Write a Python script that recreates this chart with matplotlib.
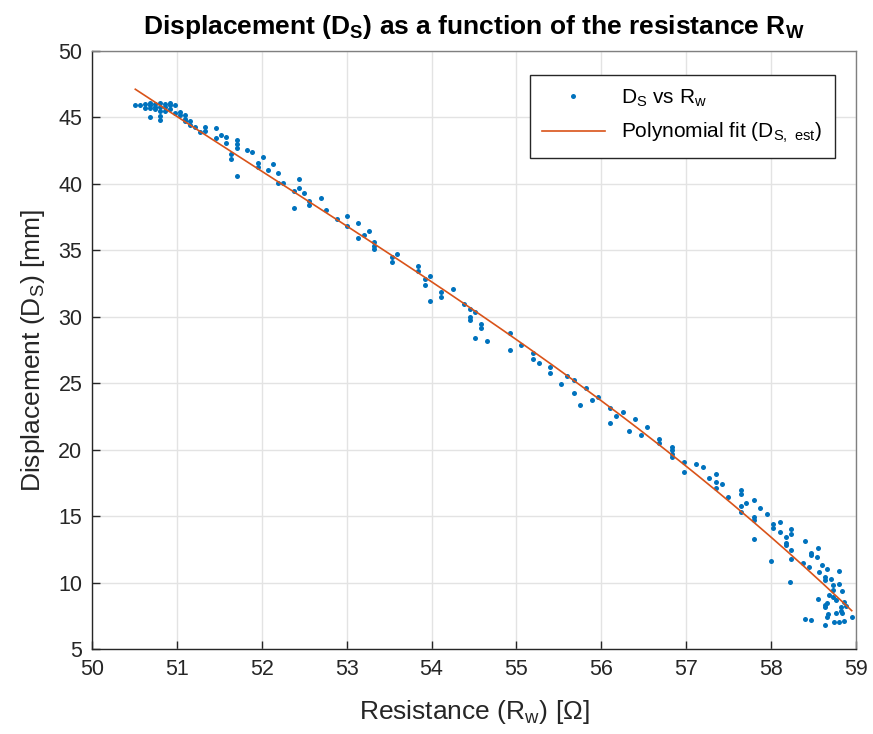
import matplotlib
matplotlib.use("Agg")
import matplotlib.pyplot as plt
import numpy as np

plt.rcParams['font.family'] = ['Liberation Sans', 'DejaVu Sans']
plt.rcParams['mathtext.default'] = 'regular'

R_w = [50.51, 50.57, 50.62, 50.62, 50.68, 50.68, 50.68, 50.68,
       50.74, 50.74, 50.74, 50.80, 50.80, 50.80, 50.80, 50.80,
       50.86, 50.86, 50.86, 50.92, 50.92, 50.92, 50.98, 50.98,
       51.04, 51.04, 51.10, 51.10, 51.10, 51.15, 51.15, 51.21,
       51.27, 51.33, 51.33, 51.46, 51.46, 51.52, 51.58, 51.58,
       51.71, 51.71, 51.71, 51.64, 51.64, 51.71, 51.83, 51.88,
       51.96, 51.96, 52.01, 52.07, 52.13, 52.19, 52.19, 52.25,
       52.38, 52.38, 52.44, 52.44, 52.50, 52.56, 52.56, 52.70,
       52.76, 52.89, 53.00, 53.00, 53.13, 53.13, 53.20, 53.26,
       53.32, 53.32, 53.32, 53.53, 53.53, 53.59, 53.84, 53.84,
       53.92, 53.92, 53.98, 53.98, 54.11, 54.11, 54.25, 54.38,
       54.45, 54.45, 54.45, 54.51, 54.51, 54.58, 54.58, 54.65,
       54.92, 54.92, 55.05, 55.19, 55.19, 55.26, 55.39, 55.39,
       55.53, 55.60, 55.68, 55.68, 55.75, 55.82, 55.89, 55.96,
       56.10, 56.10, 56.17, 56.25, 56.33, 56.40, 56.47, 56.54,
       56.68, 56.68, 56.83, 56.83, 56.83, 56.83, 56.97, 56.97,
       57.11, 57.20, 57.27, 57.35, 57.35, 57.35, 57.42, 57.49,
       57.64, 57.64, 57.64, 57.64, 57.71, 57.80, 57.80, 57.80, 57.80,
       57.87, 57.95, 58.02, 58.02, 58.00, 58.10, 58.10, 58.17,
       58.17, 58.17, 58.24, 58.24, 58.24, 58.23, 58.22, 58.38,
       58.40, 58.40, 58.47, 58.45, 58.47, 58.47, 58.54, 58.55,
       58.55, 58.57, 58.60, 58.63, 58.63, 58.63, 58.64, 58.66,
       58.66, 58.67, 58.68, 58.70, 58.73, 58.73, 58.73, 58.74,
       58.77, 58.77, 58.80, 58.80, 58.82, 58.82, 58.80, 58.84,
       58.84, 58.86, 58.88, 58.86, 58.95, 58.63, 58.66]
D_s = [45.94, 45.94, 46.00, 45.70, 46.10, 45.90, 45.70, 45.00,
       46.00, 45.80, 45.60, 46.10, 45.80, 45.50, 45.10, 44.80,
       46.00, 45.80, 45.50, 46.10, 45.90, 45.60, 45.90, 45.30,
       45.40, 45.20, 45.20, 44.90, 44.70, 44.70, 44.40, 44.30,
       43.90, 44.30, 44.00, 44.20, 43.45, 43.70, 43.50, 43.10,
       43.30, 43.00, 42.70, 42.25, 41.90, 40.60, 42.55, 42.40,
       41.60, 41.30, 42.00, 41.05, 41.50, 40.80, 40.07, 40.10,
       39.47, 38.20, 40.40, 39.70, 39.30, 38.70, 38.40, 38.94,
       38.00, 37.36, 37.60, 36.80, 37.05, 35.90, 36.15, 36.45,
       35.60, 35.30, 35.10, 34.50, 34.10, 34.70, 33.80, 33.45,
       32.85, 32.40, 33.07, 31.20, 31.90, 31.50, 32.10, 30.96,
       30.60, 30.00, 29.76, 30.36, 28.40, 29.46, 29.16, 28.18,
       28.78, 27.50, 27.88, 27.28, 26.83, 26.50, 26.20, 25.80,
       24.95, 25.55, 25.25, 24.27, 23.36, 24.64, 23.74, 23.97,
       23.14, 22.00, 22.54, 22.84, 21.40, 22.30, 21.10, 21.70,
       20.80, 20.50, 20.20, 19.95, 19.70, 19.45, 19.07, 18.30,
       18.90, 18.70, 17.87, 18.17, 17.60, 17.10, 17.40, 16.44,
       16.97, 16.67, 15.76, 15.30, 16.00, 16.20, 14.94, 14.70, 13.30,
       15.60, 15.16, 14.40, 14.10, 11.60, 14.56, 13.80, 13.43,
       12.97, 12.80, 14.00, 13.65, 12.45, 11.77, 10.05, 11.47,
       13.10, 7.26, 7.20, 11.17, 12.20, 12.07, 11.90, 12.60,
       8.77, 10.80, 11.30, 10.40, 10.20, 8.16, 6.80, 11.00,
       8.45, 7.60, 9.07, 10.27, 9.80, 9.44, 8.90, 7.00,
       8.69, 7.70, 10.87, 9.90, 8.16, 7.87, 7.00, 9.37,
       7.70, 7.10, 8.24, 8.56, 7.40, 8.30, 7.40]

R_w = np.array(R_w)
D_s = np.array(D_s)

# polynomial fit of the measurements
coef = np.polyfit(R_w, D_s, 3)
R_fit = np.linspace(R_w.min(), R_w.max(), 200)
D_fit = np.polyval(coef, R_fit)

fig = plt.figure(figsize=(8.73, 7.34), dpi=100)
ax = fig.add_axes([0.1054, 0.1158, 0.8751, 0.8147])

ax.plot(R_w, D_s, 'o', color='#0072BD', markersize=3.6, markeredgewidth=0,
        label='D$_S$ vs R$_w$')
ax.plot(R_fit, D_fit, '-', color='#D95319', linewidth=1.2,
        label='Polynomial fit (D$_{S,\\ est}$)')

ax.set_xlim(50, 59)
ax.set_ylim(5, 50)
ax.set_xticks(np.arange(50, 60, 1))
ax.set_yticks(np.arange(5, 51, 5))
ax.grid(True, color='#e3e3e3', linewidth=1)
ax.set_axisbelow(True)
ax.tick_params(direction='in', length=6, width=1, colors='#262626',
               labelsize=15.5, pad=7, top=False, right=False)
for s in ax.spines.values():
    s.set_color('#262626')
    s.set_linewidth(1)
ax.spines['top'].set_color('#808080')
ax.spines['right'].set_color('#808080')

ax.set_xlabel('Resistance (R$_w$) [\u03a9]', fontsize=19, color='#262626',
              labelpad=13)
ax.set_ylabel('Displacement (D$_S$) [mm]', fontsize=19, color='#262626',
              labelpad=8)
ax.set_title('Displacement (D$_S$) as a function of the resistance R$_W$',
             fontsize=19, fontweight='bold', color='black', pad=12)

leg = ax.legend(loc='upper right', bbox_to_anchor=(0.9725, 0.96), fontsize=15,
                fancybox=False, framealpha=1, edgecolor='#262626',
                borderpad=0.6, labelspacing=0.6, handlelength=3.0,
                borderaxespad=0, markerscale=1.0)
leg.get_frame().set_linewidth(1)

plt.savefig('out.png', dpi=100)
